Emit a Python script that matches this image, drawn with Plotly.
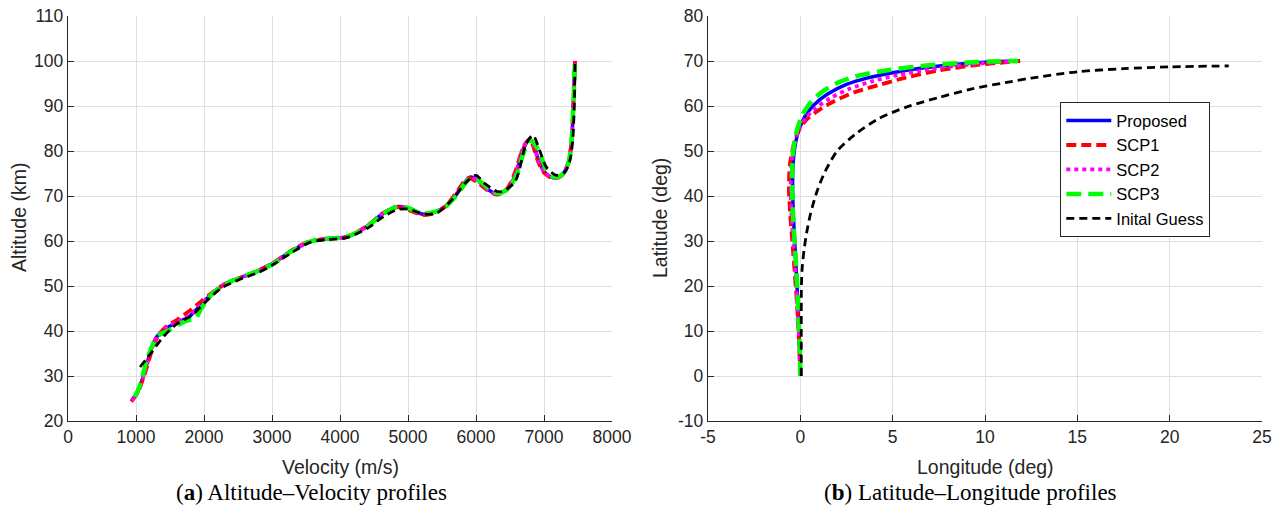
import plotly.graph_objects as go

# ---------------- data: (a) Altitude-Velocity ----------------
prop_v = [936, 1034, 1133, 1232, 1305, 1429, 1626, 1773, 1921, 2118, 2315, 2562, 2808, 3005, 3300, 3547, 3793, 4089, 4384, 4631, 4828, 4989, 5207, 5371, 5534, 5698, 5862, 5916, 6025, 6193, 6317, 6465, 6589, 6688, 6777, 6837, 6911, 7010, 7134, 7257, 7356, 7406, 7431, 7455]
prop_h = [24.6, 26.8, 31.3, 36.4, 38.7, 40.5, 42.0, 43.1, 45.3, 48.3, 50.5, 52.0, 53.5, 55.0, 57.9, 59.8, 60.5, 60.9, 63.1, 66.1, 67.6, 67.4, 66.0, 66.3, 67.5, 70.1, 73.5, 74.2, 73.5, 71.3, 70.5, 71.6, 75.0, 80.1, 82.5, 82.0, 78.3, 75.3, 74.1, 74.6, 77.2, 82.4, 89.8, 100]

scp1_v = [930, 1030, 1130, 1230, 1310, 1430, 1626, 1798, 1921, 2118, 2315, 2562, 2808, 3005, 3300, 3547, 3793, 4089, 4384, 4631, 4828, 4989, 5207, 5371, 5534, 5698, 5850, 5900, 6025, 6193, 6317, 6465, 6580, 6663, 6770, 6830, 6861, 6930, 7010, 7134, 7257, 7356, 7406, 7431, 7455]
scp1_h = [24.3, 26.5, 30.5, 35.5, 38.5, 40.8, 42.7, 44.6, 46.1, 48.5, 50.5, 52.0, 53.5, 55.0, 58.0, 59.9, 60.5, 60.9, 63.2, 66.2, 67.5, 67.0, 65.8, 66.1, 67.5, 70.5, 73.7, 74.0, 73.0, 71.0, 70.3, 71.8, 75.5, 79.4, 82.4, 81.5, 80.1, 77.0, 75.0, 73.9, 74.5, 77.2, 82.4, 89.8, 100]

scp2_v = [938, 1036, 1135, 1234, 1308, 1430, 1626, 1780, 1921, 2118, 2315, 2562, 2808, 3005, 3300, 3547, 3793, 4089, 4384, 4631, 4828, 4989, 5207, 5371, 5534, 5698, 5862, 5916, 6025, 6193, 6317, 6465, 6585, 6680, 6772, 6835, 6905, 7005, 7134, 7257, 7356, 7406, 7431, 7455]
scp2_h = [24.5, 26.7, 31.1, 36.2, 38.7, 40.6, 42.2, 43.4, 45.4, 48.3, 50.5, 52.0, 53.5, 55.0, 57.9, 59.8, 60.5, 60.9, 63.1, 66.1, 67.6, 67.3, 66.0, 66.3, 67.5, 70.2, 73.5, 74.2, 73.4, 71.2, 70.4, 71.6, 75.1, 80.3, 82.6, 82.0, 78.4, 75.3, 74.0, 74.6, 77.2, 82.4, 89.8, 100]

scp3_v = [985, 1070, 1158, 1250, 1330, 1500, 1650, 1773, 1872, 1960, 2118, 2315, 2562, 2808, 3005, 3300, 3547, 3793, 4089, 4384, 4631, 4828, 4989, 5207, 5371, 5534, 5698, 5862, 5930, 6025, 6193, 6317, 6465, 6600, 6700, 6790, 6861, 6960, 7040, 7150, 7257, 7356, 7406, 7431, 7455]
scp3_h = [25.3, 28.5, 33.5, 37.0, 39.0, 40.3, 41.6, 42.4, 42.7, 45.0, 48.2, 50.4, 52.0, 53.4, 54.8, 57.8, 59.8, 60.5, 60.9, 63.0, 66.0, 67.5, 67.4, 66.1, 66.4, 67.4, 69.9, 73.2, 74.0, 73.6, 71.6, 70.6, 71.5, 74.8, 79.6, 82.3, 81.6, 78.7, 75.6, 74.2, 74.6, 77.2, 82.4, 89.8, 100]

init_v = [1059, 1232, 1379, 1576, 1823, 2020, 2250, 2500, 2800, 3000, 3300, 3560, 3800, 4090, 4400, 4650, 4850, 5000, 5230, 5420, 5650, 5850, 5998, 6134, 6352, 6570, 6738, 6837, 6936, 7035, 7183, 7307, 7381, 7420, 7445, 7456]
init_h = [32.0, 35.3, 38.3, 41.3, 43.5, 46.4, 49.5, 51.3, 53.0, 54.6, 57.5, 59.7, 60.3, 60.7, 62.8, 65.5, 67.0, 67.1, 66.0, 66.2, 69.2, 73.0, 74.6, 72.7, 70.9, 73.1, 81.6, 83.5, 80.1, 76.4, 74.6, 75.3, 77.9, 82.0, 90.0, 100]

# ---------------- data: (b) Latitude-Longitude ----------------
prop_lon = [0.0, -0.03, -0.1, -0.18, -0.28, -0.38, -0.42, -0.38, -0.25, -0.05, 0.25, 0.75, 1.5, 2.5, 3.6, 5.0, 6.7, 8.5, 10.2, 11.9]
prop_lat = [0, 5, 12, 20, 28, 36, 43, 48, 52, 55, 57.7, 60.3, 62.7, 64.8, 66.2, 67.4, 68.5, 69.3, 69.8, 70.0]

scp1_lon = [0.0, -0.05, -0.12, -0.25, -0.4, -0.55, -0.62, -0.55, -0.35, -0.1, 0.3, 0.9, 1.8, 2.9, 4.2, 5.7, 7.5, 9.3, 10.8, 11.9]
scp1_lat = [0, 5, 12, 20, 28, 36, 42, 47.5, 51.5, 54.5, 56.8, 58.8, 61.0, 63.0, 64.6, 66.3, 67.9, 69.0, 69.6, 70.0]

scp2_lon = [0.0, -0.04, -0.11, -0.22, -0.35, -0.48, -0.52, -0.46, -0.3, -0.08, 0.27, 0.82, 1.65, 2.7, 3.9, 5.3, 7.1, 8.9, 10.5, 11.9]
scp2_lat = [0, 5, 12, 20, 28, 36, 42.5, 47.8, 51.8, 54.8, 57.2, 59.5, 61.8, 63.9, 65.5, 66.9, 68.2, 69.1, 69.7, 70.0]

scp3_lon = [0.0, -0.02, -0.08, -0.17, -0.28, -0.4, -0.45, -0.42, -0.3, -0.12, 0.15, 0.6, 1.2, 2.1, 3.2, 4.8, 6.6, 8.5, 10.3, 11.8]
scp3_lat = [0, 5, 12, 20, 28, 36, 43, 48.5, 52.5, 55.5, 58.3, 61.0, 63.2, 65.3, 66.8, 68.0, 68.9, 69.5, 69.9, 70.0]

init_lon = [0.05, 0.05, 0.06, 0.1, 0.2, 0.35, 0.55, 0.9, 1.35, 2.0, 3.0, 4.2, 5.7, 7.5, 9.3, 11.1, 12.5, 15.0, 17.5, 20.0, 23.2]
init_lat = [0, 10, 20, 24, 28, 32, 36, 41, 45.5, 50, 53.8, 57.1, 59.7, 61.9, 63.8, 65.2, 66.2, 67.6, 68.3, 68.7, 68.9]

series_names = ["Proposed", "SCP1", "SCP2", "SCP3", "Inital Guess"]

# ticks
xa_ticks = [0, 1000, 2000, 3000, 4000, 5000, 6000, 7000, 8000]
ya_ticks = [20, 30, 40, 50, 60, 70, 80, 90, 100, 110]
xb_ticks = [-5, 0, 5, 10, 15, 20, 25]
xb_text = ["-5", "0", "5", "10", "15", "20", "25"]
yb_ticks = [-10, 0, 10, 20, 30, 40, 50, 60, 70, 80]
yb_text = ["-10", "0", "10", "20", "30", "40", "50", "60", "70", "80"]

# ---------------- styles ----------------
styles = [
    dict(color="#0000ff", width=3.5, dash="solid"),
    dict(color="#ff0000", width=3.8, dash="10px,5px"),
    dict(color="#ff00ff", width=3.8, dash="4px,4px"),
    dict(color="#00ff00", width=4.5, dash="15px,7px"),
    dict(color="#000000", width=2.8, dash="8px,5px"),
]

W, H = 1282, 514
def px(x):
    return x / W
def py(y):
    return 1 - y / H

fig = go.Figure()
left = [(prop_v, prop_h), (scp1_v, scp1_h), (scp2_v, scp2_h), (scp3_v, scp3_h), (init_v, init_h)]
right = [(prop_lon, prop_lat), (scp1_lon, scp1_lat), (scp2_lon, scp2_lat), (scp3_lon, scp3_lat), (init_lon, init_lat)]

for i, (xs, ys) in enumerate(left):
    fig.add_trace(go.Scatter(x=xs, y=ys, mode="lines", xaxis="x", yaxis="y",
                             line=dict(shape="spline", smoothing=0.8, **styles[i]),
                             name=series_names[i], showlegend=False))
for i, (xs, ys) in enumerate(right):
    fig.add_trace(go.Scatter(x=xs, y=ys, mode="lines", xaxis="x2", yaxis="y2",
                             line=dict(shape="spline", smoothing=0.8, **styles[i]),
                             name=series_names[i], showlegend=True))

tick_font = dict(family="Liberation Sans, Arial, sans-serif", size=17.5, color="#262626")
axis_common = dict(showline=True, linecolor="#262626", linewidth=1.4, mirror=False,
                   ticks="inside", ticklen=6, tickwidth=1.2, tickcolor="#262626",
                   showgrid=True, gridcolor="#dfdfdf", gridwidth=1, zeroline=False,
                   tickfont=tick_font, fixedrange=True, automargin=False)

ydom = [py(421), py(16)]
fig.update_layout(
    width=W, height=H,
    margin=dict(l=0, r=0, t=0, b=0, autoexpand=False),
    paper_bgcolor="white", plot_bgcolor="white",
    xaxis=dict(domain=[px(68), px(612)], range=[0, 8000], tickvals=xa_ticks,
               ticktext=[str(t) for t in xa_ticks], anchor="y", **axis_common),
    yaxis=dict(domain=ydom, range=[20, 110], tickvals=ya_ticks,
               ticktext=[str(t) for t in ya_ticks], anchor="x", **axis_common),
    xaxis2=dict(domain=[px(708), px(1262)], range=[-5, 25], tickvals=xb_ticks,
                ticktext=xb_text, anchor="y2", **axis_common),
    yaxis2=dict(domain=ydom, range=[-10, 80], tickvals=yb_ticks,
                ticktext=yb_text, anchor="x2", **axis_common),
    legend=dict(x=px(1060), y=py(102), xanchor="left", yanchor="top",
                bgcolor="white", bordercolor="#262626", borderwidth=1.3,
                font=dict(family="Liberation Sans, Arial, sans-serif", size=16.5, color="#000000"),
                itemwidth=45, tracegroupgap=0),
    showlegend=True,
)

title_font = dict(family="Liberation Sans, Arial, sans-serif", size=19.5, color="#262626")
cap_font = dict(family="Liberation Serif, Times New Roman, serif", size=23, color="#000000")
ann = [
    dict(text="Velocity (m/s)", x=px(340), y=py(467), font=title_font),
    dict(text="Longitude (deg)", x=px(985), y=py(467), font=title_font),
    dict(text="Altitude (km)", x=px(19), y=py(218), font=title_font, textangle=-90),
    dict(text="Latitude (deg)", x=px(660), y=py(218), font=title_font, textangle=-90),
    dict(text="(<b>a</b>) Altitude–Velocity profiles", x=px(311), y=py(492), font=cap_font),
    dict(text="(<b>b</b>) Latitude–Longitude profiles", x=px(971), y=py(492), font=cap_font),
]
for a in ann:
    fig.add_annotation(xref="paper", yref="paper", showarrow=False,
                       xanchor="center", yanchor="middle", **a)

fig.write_html("out.html", config={"displayModeBar": False},
               post_script="document.body.style.margin='0';document.body.style.overflow='hidden';")
